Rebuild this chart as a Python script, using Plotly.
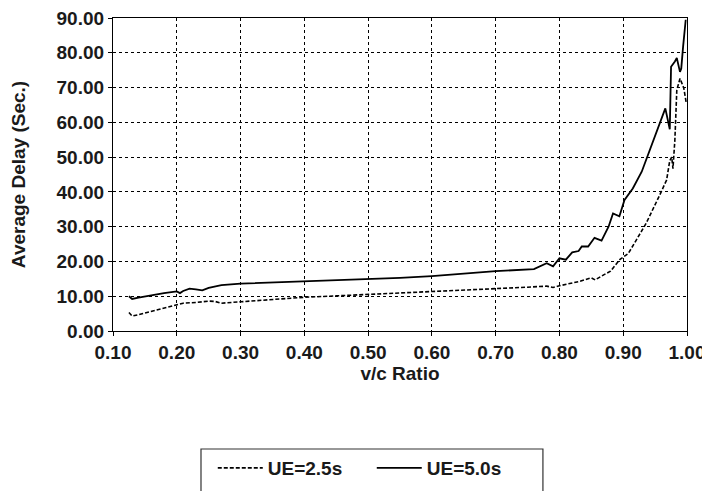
import plotly.graph_objects as go

# UE = 5.0 s (solid)
x_ue50 = [0.125, 0.13, 0.14, 0.16, 0.18, 0.20, 0.205, 0.21, 0.22, 0.23, 0.24, 0.25, 0.27, 0.30,
          0.35, 0.40, 0.45, 0.50, 0.55, 0.60, 0.65, 0.70, 0.76, 0.78, 0.79, 0.80, 0.81, 0.82,
          0.83, 0.835, 0.845, 0.855, 0.866, 0.877, 0.884, 0.894, 0.902, 0.915, 0.929, 0.947,
          0.966, 0.973, 0.975, 0.981, 0.984, 0.989, 0.991, 0.994, 0.998]
y_ue50 = [10.0, 9.2, 9.6, 10.3, 10.9, 11.4, 10.9, 11.5, 12.2, 12.0, 11.7, 12.4, 13.2, 13.6,
          13.9, 14.3, 14.6, 14.9, 15.3, 15.8, 16.5, 17.2, 17.8, 19.5, 18.6, 20.9, 20.5, 22.6,
          23.0, 24.3, 24.3, 26.8, 26.0, 30.0, 33.8, 33.0, 37.7, 41.0, 45.8, 54.5,
          64.0, 58.0, 76.0, 77.5, 78.5, 74.5, 75.5, 82.0, 89.5]

# UE = 2.5 s (dashed)
x_ue25 = [0.125, 0.13, 0.14, 0.16, 0.18, 0.20, 0.21, 0.23, 0.25, 0.26, 0.27, 0.30, 0.35, 0.40,
          0.45, 0.50, 0.55, 0.60, 0.65, 0.70, 0.75, 0.78, 0.79, 0.80, 0.83, 0.85, 0.856, 0.87,
          0.88, 0.895, 0.908, 0.92, 0.936, 0.957, 0.968, 0.973, 0.976, 0.978, 0.981, 0.984,
          0.986, 0.989, 0.991, 0.995, 0.999]
y_ue25 = [5.3, 4.3, 4.7, 5.7, 6.6, 7.7, 8.0, 8.2, 8.6, 8.5, 8.0, 8.4, 9.1, 9.7,
          10.1, 10.5, 10.8, 11.2, 11.7, 12.2, 12.6, 12.9, 12.5, 13.0, 14.2, 15.3, 14.7, 16.2,
          17.2, 20.6, 22.3, 26.0, 31.0, 39.0, 43.4, 49.0, 50.0, 46.7, 55.0, 69.3,
          70.7, 72.6, 71.7, 69.8, 65.4]

x_ticks = [0.1, 0.2, 0.3, 0.4, 0.5, 0.6, 0.7, 0.8, 0.9, 1.0]
y_ticks = [0, 10, 20, 30, 40, 50, 60, 70, 80, 90]

FONT = "Liberation Sans"

fig = go.Figure()
fig.add_trace(go.Scatter(x=x_ue25, y=y_ue25, mode="lines", name="UE=2.5s",
                         line=dict(color="black", width=1.6, dash="4px,2px")))
fig.add_trace(go.Scatter(x=x_ue50, y=y_ue50, mode="lines", name="UE=5.0s",
                         line=dict(color="black", width=1.8)))

axis_common = dict(
    showline=True, linecolor="black", linewidth=1.2, mirror=True,
    showgrid=True, gridcolor="black", gridwidth=0.8, griddash="dot",
    ticks="outside", ticklen=4, tickcolor="black", tickwidth=1,
    tickformat=".2f", zeroline=False, automargin=False,
    ticklabeloverflow="allow",
    tickfont=dict(family=FONT, size=19, color="#1a1a1a", weight="bold"),
)

fig.update_xaxes(range=[0.1, 1.0], tickvals=x_ticks, **axis_common,
                 title=dict(text="v/c Ratio", standoff=3,
                            font=dict(family=FONT, size=19, color="#1a1a1a", weight="bold")))
fig.update_yaxes(range=[0, 90], tickvals=y_ticks, **axis_common,
                 title=dict(text="Average Delay (Sec.)", standoff=28,
                            font=dict(family=FONT, size=19, color="#1a1a1a", weight="bold")))

fig.update_layout(
    width=702, height=483,
    margin=dict(l=105, r=23, t=10, b=160),
    paper_bgcolor="white", plot_bgcolor="white",
    showlegend=True,
    legend=dict(orientation="h", xref="container", yref="container",
                x=0.2917, y=0.087, xanchor="left", yanchor="top",
                bgcolor="rgba(0,0,0,0)", borderwidth=0, itemwidth=45,
                entrywidth=99, entrywidthmode="pixels",
                font=dict(family=FONT, size=19, color="#1a1a1a", weight="bold")),
    shapes=[dict(type="rect", xref="paper", yref="paper",
                 x0=0.1533, x1=0.749, y0=-0.377, y1=-0.62,
                 line=dict(color="#333333", width=1.2), fillcolor="rgba(0,0,0,0)")],
)

fig.write_html("out.html")
